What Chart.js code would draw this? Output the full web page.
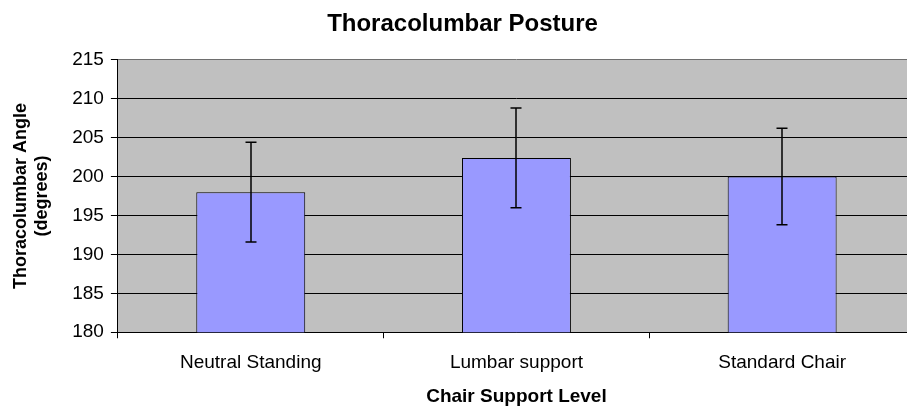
<!DOCTYPE html>
<html>
<head>
<meta charset="utf-8">
<script src="https://cdn.jsdelivr.net/npm/chart.js@4.4.1/dist/chart.umd.min.js"></script>
<style>
    html, body { margin: 0; padding: 0; background: #fff; overflow: hidden; }
    #wrap { width: 915px; height: 407px; position: relative; }
</style>
</head>
<body>
<div id="wrap"><canvas id="postureChart"></canvas></div>
<script>
const categories = ['Neutral Standing', 'Lumbar support', 'Standard Chair'];
const meanAngle = [198.0, 202.4, 200.0];
const errorSize = [6.4, 6.4, 6.2];
const yTicks = [180, 185, 190, 195, 200, 205, 210, 215];

const FONT = 'Liberation Sans, Arial, sans-serif';

const plotBackground = {
    id: 'plotBackground',
    beforeDraw(chart) {
        const { ctx, chartArea } = chart;
        ctx.save();
        ctx.fillStyle = '#c0c0c0';
        ctx.fillRect(chartArea.left, chartArea.top, chartArea.right - chartArea.left, chartArea.bottom - chartArea.top);
        ctx.restore();
    }
};

const errorBars = {
    id: 'errorBars',
    afterDatasetsDraw(chart) {
        const { ctx } = chart;
        const yScale = chart.scales.y;
        const meta = chart.getDatasetMeta(0);
        ctx.save();
        ctx.strokeStyle = '#000';
        ctx.lineWidth = 1.5;
        meta.data.forEach((bar, i) => {
            const x = Math.round(bar.x);
            const top = yScale.getPixelForValue(meanAngle[i] + errorSize[i]);
            const bottom = yScale.getPixelForValue(meanAngle[i] - errorSize[i]);
            ctx.beginPath();
            ctx.moveTo(x, top);
            ctx.lineTo(x, bottom);
            ctx.moveTo(x - 5.5, top);
            ctx.lineTo(x + 5.5, top);
            ctx.moveTo(x - 5.5, bottom);
            ctx.lineTo(x + 5.5, bottom);
            ctx.stroke();
        });
        ctx.restore();
    }
};

new Chart(document.getElementById('postureChart'), {
    type: 'bar',
    data: {
        labels: categories,
        datasets: [{
            data: meanAngle,
            backgroundColor: '#9999ff',
            borderColor: '#000',
            borderWidth: 1,
            categoryPercentage: 1,
            barPercentage: 0.41
        }]
    },
    options: {
        responsive: true,
        maintainAspectRatio: false,
        animation: false,
        layout: { padding: { top: 4, left: 10, right: 0, bottom: 0 } },
        plugins: {
            legend: { display: false },
            tooltip: { enabled: false },
            title: {
                display: true,
                text: 'Thoracolumbar Posture',
                color: '#000',
                font: { family: FONT, size: 24, weight: 'bold' },
                padding: { top: 6, bottom: 21 }
            }
        },
        scales: {
            x: {
                offset: true,
                grid: {
                    offset: true,
                    drawOnChartArea: false,
                    color: '#000',
                    tickLength: 6
                },
                border: { color: '#000', width: 1 },
                ticks: {
                    color: '#000',
                    padding: 13,
                    font: { family: FONT, size: 19 }
                },
                title: {
                    display: true,
                    text: 'Chair Support Level',
                    color: '#000',
                    font: { family: FONT, size: 19, weight: 'bold', lineHeight: 1.05 },
                    padding: { top: 0, bottom: 0 }
                }
            },
            y: {
                min: yTicks[0],
                max: yTicks[yTicks.length - 1],
                afterBuildTicks(axis) {
                    axis.ticks = yTicks.map(v => ({ value: v }));
                },
                grid: {
                    color: ctx => (ctx.tick && ctx.tick.value === 215 ? '#6e6e6e' : '#000'),
                    tickColor: '#000',
                    tickLength: 7
                },
                border: { color: '#000', width: 1 },
                ticks: {
                    color: '#000',
                    padding: 7,
                    font: { family: FONT, size: 19 }
                },
                title: {
                    display: true,
                    text: ['Thoracolumbar Angle', '(degrees)'],
                    color: '#000',
                    font: { family: FONT, size: 18, weight: 'bold', lineHeight: 1.2 },
                    padding: { top: 0, bottom: 12 }
                }
            }
        }
    },
    plugins: [plotBackground, errorBars]
});
</script>
</body>
</html>
